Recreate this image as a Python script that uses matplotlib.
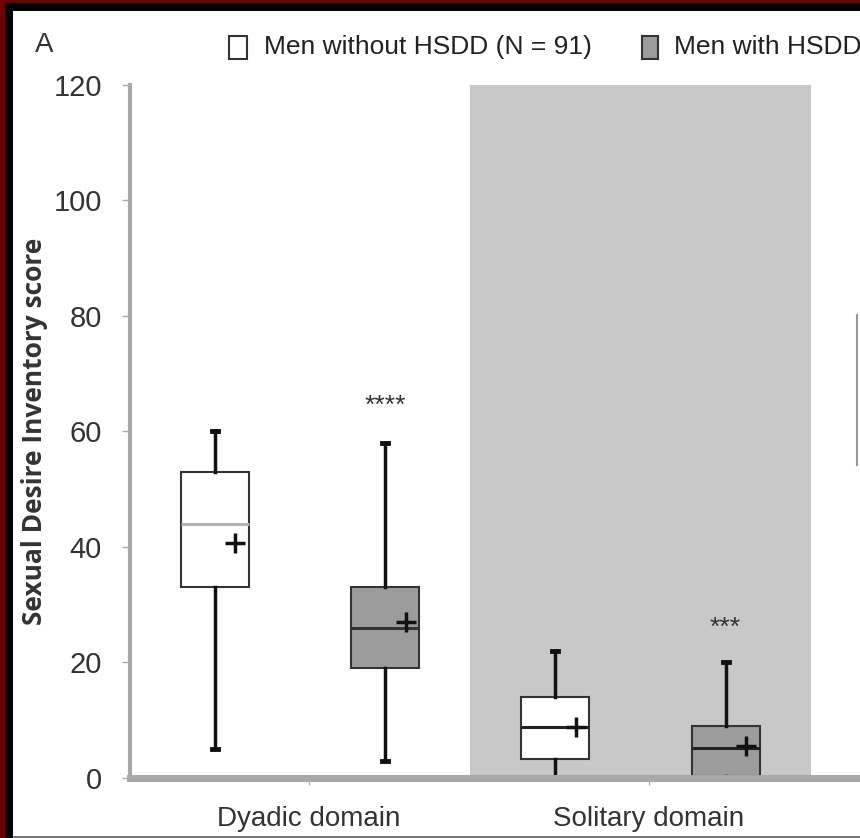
import matplotlib
matplotlib.use("Agg")
import matplotlib.pyplot as plt
from matplotlib.patches import Rectangle
from matplotlib.lines import Line2D

plt.rcParams['font.family'] = ['Liberation Sans', 'DejaVu Sans']

# box statistics (SDI score)
groups = ["Men without HSDD", "Men with HSDD", "Men without HSDD", "Men with HSDD"]
positions = [1, 2, 3, 4]
q1 = [33, 19, 3.3, 0.3]
q3 = [53, 33, 14, 9]
medians = [44, 26, 8.8, 5.2]
means = [40.7, 27, 8.8, 5.5]
whislo = [5, 3, 0, 0]
whishi = [60, 58, 22, 20]
fills = ["white", "#9c9c9c", "white", "#9c9c9c"]
median_colors = ["#b4b4b4", "#333333", "#222222", "#222222"]

domains = ["Dyadic domain", "Solitary domain"]
domain_ticks = [1.55, 3.55]
stars = ["****", "***"]
star_pos = [2, 4]
star_y = [64.5, 26]

fig = plt.figure(figsize=(8.6, 8.38), dpi=100)
ax = fig.add_axes([0.151, 0.0716, 0.849, 0.827])

# shaded band behind the solitary domain
ax.axvspan(2.5, 4.5, color="#c8c8c8", zorder=0, lw=0)

stats = []
for i in range(len(positions)):
    stats.append(dict(med=medians[i], q1=q1[i], q3=q3[i],
                      whislo=whislo[i], whishi=whishi[i], fliers=[]))

bp = ax.bxp(stats, positions=positions, widths=0.4, patch_artist=True,
            showfliers=False,
            boxprops=dict(edgecolor="#333333", linewidth=1.5),
            whiskerprops=dict(color="#111111", linewidth=2.5),
            capprops=dict(color="#111111", linewidth=3.5),
            medianprops=dict(linewidth=2.2), capwidths=0.035)
for patch, c in zip(bp['boxes'], fills):
    patch.set_facecolor(c)
for line, c in zip(bp['medians'], median_colors):
    line.set_color(c)

# means drawn just right of the box centre
ax.plot([p + 0.12 for p in positions], means, ls="none", marker="+",
        ms=14, mew=2.5, color="#111111", zorder=5)

for s, x, y in zip(stars, star_pos, star_y):
    ax.text(x, y, s, ha="center", va="center", fontsize=19, color="#333333")

ax.set_xlim(0.5, 4.79)
ax.set_ylim(0, 120)
ax.set_yticks([0, 20, 40, 60, 80, 100, 120])
ax.set_xticks(domain_ticks)
ax.set_xticklabels(domains)
ax.tick_params(axis="y", labelsize=21, length=6, width=1, color="#aaaaaa",
               pad=14, labelcolor="#333333")
ax.tick_params(axis="x", labelsize=20, length=5, width=1, color="#aaaaaa",
               pad=15, labelcolor="#333333")
for side in ["top", "right"]:
    ax.spines[side].set_visible(False)
ax.spines["left"].set_color("#a8a8a8")
ax.spines["left"].set_linewidth(3)
ax.spines["bottom"].set_color("#a8a8a8")
ax.spines["bottom"].set_linewidth(5)
ax.spines["bottom"].set_zorder(6)
ax.set_ylabel("Sexual Desire Inventory score", fontsize=19, fontweight="bold",
              color="#333333", labelpad=4, family=["Open Sans", "DejaVu Sans"])

# legend row across the top
fig.text(0.041, 0.946, "A", fontsize=20, color="#333333", va="center")
fig.patches.append(Rectangle((0.266, 0.930), 0.021, 0.027, transform=fig.transFigure,
                             facecolor="white", edgecolor="#333333", lw=1.5))
fig.text(0.307, 0.944, "Men without HSDD (N = 91)", fontsize=19, color="#222222",
         va="center")
fig.patches.append(Rectangle((0.746, 0.930), 0.019, 0.027, transform=fig.transFigure,
                             facecolor="#9c9c9c", edgecolor="#333333", lw=1.5))
fig.text(0.784, 0.944, "Men with HSDD", fontsize=19, color="#222222", va="center")

# edge of the neighbouring panel
fig.lines.append(Line2D([0.997, 0.997], [0.445, 0.624], transform=fig.transFigure,
                        color="#999999", lw=1.5))

# dark frame from the source page
fig.patches.append(Rectangle((0, 0), 5 / 860, 1, transform=fig.transFigure,
                             facecolor="#6e0000", lw=0))
fig.patches.append(Rectangle((5 / 860, 0), 8 / 860, 1 - 3 / 838, transform=fig.transFigure,
                             facecolor="black", lw=0))
fig.patches.append(Rectangle((0, 1 - 3 / 838), 1, 3 / 838, transform=fig.transFigure,
                             facecolor="#6e0000", lw=0))
fig.patches.append(Rectangle((5 / 860, 1 - 11 / 838), 1, 8 / 838, transform=fig.transFigure,
                             facecolor="black", lw=0))
fig.patches.append(Rectangle((13 / 860, 0), 1, 2 / 838, transform=fig.transFigure,
                             facecolor="#777777", lw=0))

fig.savefig("out.png", dpi=100)
